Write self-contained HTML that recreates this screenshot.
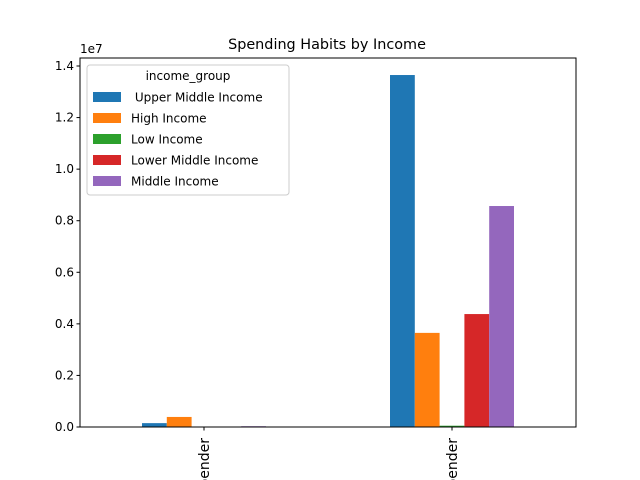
<!DOCTYPE html>
<html><head><meta charset="utf-8"><style>
html,body{margin:0;background:#fff;overflow:hidden;width:640px;height:480px}
svg{display:block;overflow:hidden;font-family:"DejaVu Sans","Liberation Sans",sans-serif}
</style></head><body>
<svg id="c" width="640" height="480">
<text x="327" y="49" font-size="14.4" text-anchor="middle">Spending Habits by Income</text>
</svg>
<script>
const categories=["Low Spender","High Spender"];
const seriesNames=[" Upper Middle Income","High Income","Low Income","Lower Middle Income","Middle Income"];
const upperMiddle=[0.15e6,13.65e6];
const highInc=[0.39e6,3.65e6];
const lowInc=[0.0e6,0.05e6];
const lowerMiddle=[0.0e6,4.38e6];
const middleInc=[0.03e6,8.57e6];
const yTicks=[0,0.2,0.4,0.6,0.8,1.0,1.2,1.4];
const colors=["#1f77b4","#ff7f0e","#2ca02c","#d62728","#9467bd"];
const series=[upperMiddle,highInc,lowInc,lowerMiddle,middleInc];
const svg=document.getElementById('c');const NS="http://www.w3.org/2000/svg";
const L=80,R=576,T=58,B=427;
const y=v=>B-v/1.4e7*361;
const xc=i=>L+(i+0.5)*(R-L)/categories.length;
const bw=24.8;
function mk(t,a){const e=document.createElementNS(NS,t);for(const k in a)e.setAttribute(k,a[k]);svg.appendChild(e);return e;}
series.forEach((s,j)=>s.forEach((v,i)=>{
const x=xc(i)+(j-2.5)*bw;
const r=mk('rect',{x:x,y:y(v),width:bw,height:B-y(v),fill:colors[j]});


}));
const ax=mk('rect',{x:L,y:T,width:R-L,height:B-T,fill:'none',stroke:'#000','stroke-width':1});


yTicks.forEach(t=>{const yy=y(t*1e7);
mk('line',{x1:L-3.5,x2:L,y1:yy,y2:yy,stroke:'#000'});
const tx=mk('text',{x:L-6,y:yy+4,'font-size':12,'text-anchor':'end'});tx.textContent=t.toFixed(1);

});
const ex=mk('text',{x:L,y:T-5,'font-size':12});ex.textContent='1e7';


categories.forEach((c,i)=>{const xx=xc(i);
mk('line',{x1:xx,x2:xx,y1:B,y2:B+3.5,stroke:'#000'});
const tx=mk('text',{x:0,y:0,'font-size':14,'text-anchor':'end',transform:`translate(${xx+5},${B+11}) rotate(-90)`});tx.textContent=c;

});
const lg=mk('rect',{x:87,y:65,width:202,height:130,fill:'#fff',stroke:'#ccc',rx:3});


const lt=mk('text',{x:188,y:80,'font-size':12,'text-anchor':'middle'});lt.textContent='income_group';


seriesNames.forEach((n,j)=>{const yy=97+j*21;
mk('rect',{x:93,y:yy-5,width:28,height:10,fill:colors[j]});
const tx=mk('text',{x:131,y:yy+4.5,'font-size':12});tx.textContent=n;tx.style.whiteSpace='pre';

});
</script>
</body></html>
